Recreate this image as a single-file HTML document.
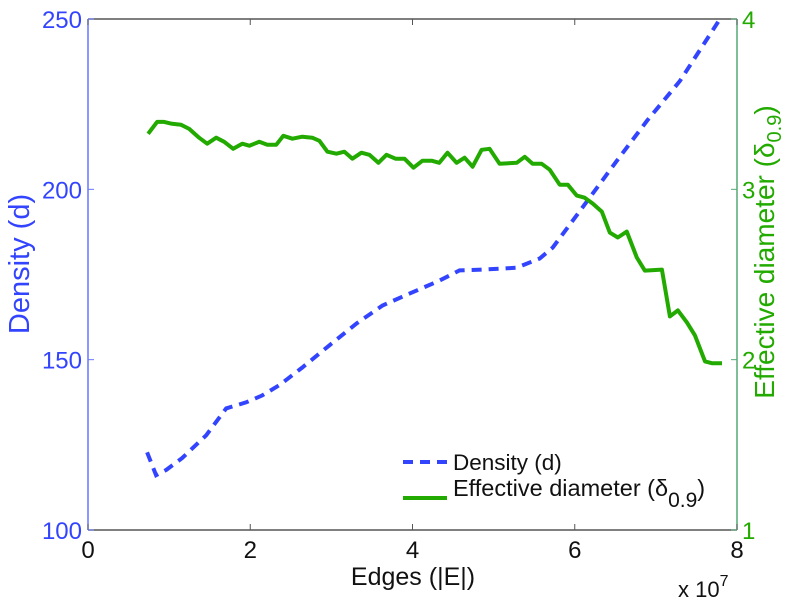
<!DOCTYPE html>
<html><head><meta charset="utf-8"><style>
body{margin:0;background:#fff;}
svg{display:block;font-family:"Liberation Sans",sans-serif;}
</style></head><body>
<svg id="chart" width="799" height="600"></svg>
<script>
const xTicks=[0,2,4,6,8];
const leftTicks=[100,150,200,250];
const rightTicks=[1,2,3,4];
const densityX=[0.728,0.840,0.963,1.160,1.457,1.704,1.951,2.148,2.358,2.642,2.975,3.309,3.630,3.963,4.333,4.580,4.914,5.284,5.568,5.728,5.975,6.185,6.519,6.889,7.296,7.790];
const densityY=[122.8,116.1,117.6,121.1,127.8,135.7,137.5,139.5,142.5,147.7,154.2,160.6,165.9,169.4,173.2,176.2,176.5,177.0,179.7,182.9,190.8,197.6,208.4,220.1,231.8,250];
const diamX=[.741,.852,.938,1.037,1.148,1.247,1.370,1.469,1.580,1.679,1.790,1.901,1.988,2.111,2.210,2.321,2.407,2.519,2.642,2.765,2.852,2.951,3.062,3.160,3.259,3.370,3.469,3.580,3.679,3.790,3.901,4.012,4.123,4.235,4.33,4.432,4.543,4.642,4.741,4.852,4.951,5.074,5.284,5.383,5.481,5.593,5.691,5.815,5.914,6.025,6.123,6.222,6.333,6.432,6.531,6.642,6.765,6.864,7.074,7.173,7.272,7.383,7.481,7.605,7.691,7.815];
const diamY=[3.326,3.396,3.396,3.385,3.379,3.355,3.303,3.268,3.303,3.279,3.238,3.268,3.256,3.279,3.262,3.262,3.314,3.297,3.309,3.303,3.285,3.221,3.209,3.221,3.180,3.215,3.203,3.156,3.203,3.180,3.180,3.127,3.168,3.168,3.156,3.215,3.156,3.186,3.133,3.232,3.238,3.150,3.156,3.191,3.150,3.150,3.115,3.027,3.027,2.963,2.951,2.916,2.869,2.746,2.717,2.752,2.600,2.523,2.529,2.254,2.289,2.219,2.143,1.990,1.979,1.979];

const L=88,R=737,T=19,B=530;
const xs=v=>L+(v-0)/8*(R-L);
const yl=v=>B-(v-100)/150*(B-T);
const yr=v=>B-(v-1)/3*(B-T);
const NS="http://www.w3.org/2000/svg";
const svg=document.getElementById('chart');
function mk(tag,attrs,parent){const e=document.createElementNS(NS,tag);for(const k in attrs)e.setAttribute(k,attrs[k]);(parent||svg).appendChild(e);return e;}
function txt(s,attrs,name){const e=mk('text',attrs);e.textContent=s;


return e;}

let f=mk('path',{d:`M${L},${T}H${R}M${L},${B}H${R}`,stroke:'#555',fill:'none','stroke-width':1.5});


let la=mk('line',{x1:L,y1:T,x2:L,y2:B,stroke:'#6677ff','stroke-width':1.5});


let ra=mk('line',{x1:R,y1:T,x2:R,y2:B,stroke:'#55aa77','stroke-width':1.5});



xTicks.forEach(v=>{
  let t=mk('path',{d:`M${xs(v)},${B}v-6M${xs(v)},${T}v6`,stroke:'#555'});
  
  
  txt(String(v),{x:xs(v),y:B+28,'font-size':24,'text-anchor':'middle',fill:'#111'},'x-tick-label');
});
leftTicks.forEach(v=>{
  let t=mk('path',{d:`M${L},${yl(v)}h6`,stroke:'#6677ff'});
  
  
  txt(String(v),{x:L-6,y:yl(v)+9,'font-size':24,'text-anchor':'end',fill:'#3344ff'},'left-tick-label');
});
rightTicks.forEach(v=>{
  let t=mk('path',{d:`M${R},${yr(v)}h-6`,stroke:'#55aa77'});
  
  
  txt(String(v),{x:R+5,y:yr(v)+9,'font-size':24,'text-anchor':'start',fill:'#22aa00'},'right-tick-label');
});

txt('Edges (|E|)',{x:413,y:585,'font-size':25,'text-anchor':'middle',fill:'#111'},'x-axis-title');
let ex=txt('x 10',{x:678,y:597,'font-size':22,fill:'#111'},'x-exponent');
let sup=mk('tspan',{dy:-11,'font-size':16},ex);sup.textContent='7';
txt('Density (d)',{x:29,y:264,'font-size':29,'text-anchor':'middle',fill:'#3344ff',transform:'rotate(-90 29 264)'},'y-left-title');
let rt=txt('Effective diameter (δ',{x:774,y:252,'font-size':28,'text-anchor':'middle',fill:'#22aa00',transform:'rotate(-90 774 252)'},'y-right-title');
let s1=mk('tspan',{dy:7,'font-size':20},rt);s1.textContent='0.9';
let s2=mk('tspan',{dy:-7},rt);s2.textContent=')';

function pathD(X,Y,yf){return X.map((v,i)=>(i?'L':'M')+xs(v).toFixed(1)+','+yf(Y[i]).toFixed(1)).join('');}
let dl=mk('path',{d:pathD(densityX,densityY,yl),stroke:'#3344ff','stroke-width':4,fill:'none','stroke-dasharray':'10,7'});


let gl=mk('path',{d:pathD(diamX,diamY,yr),stroke:'#22aa00','stroke-width':4,fill:'none','stroke-linejoin':'round'});



let l1=mk('line',{x1:403,y1:462,x2:447,y2:462,stroke:'#3344ff','stroke-width':4,'stroke-dasharray':'10,7'});


txt('Density (d)',{x:453,y:470,'font-size':22.5,fill:'#111'},'legend-density-label');
let l2=mk('line',{x1:403,y1:498,x2:447,y2:498,stroke:'#22aa00','stroke-width':4});


let lt=txt('Effective diameter (δ',{x:453,y:496,'font-size':23.5,fill:'#111'},'legend-diameter-label');
let t1=mk('tspan',{dy:11,'font-size':21},lt);t1.textContent='0.9';
let t2=mk('tspan',{dy:-11},lt);t2.textContent=')';
</script>
</body></html>
